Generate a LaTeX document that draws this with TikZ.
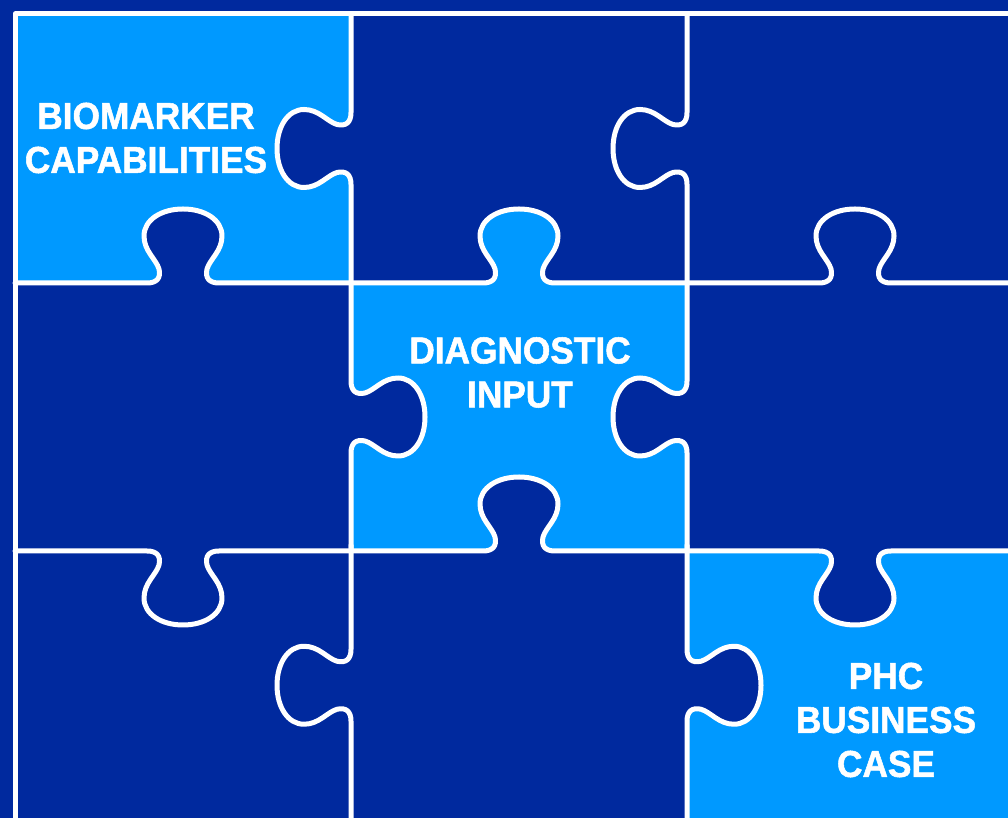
\documentclass[tikz,border=0pt]{standalone}
\usepackage{fontspec}
\newfontfamily\lblfont[FakeStretch=0.94,FakeBold=1.4]{Liberation Sans Bold}
\definecolor{dk}{RGB}{0,41,158}
\definecolor{lt}{RGB}{0,153,255}
\newcommand\tabcurve{.. controls (-26,0) and (-22,5) .. (-24,14)
 .. controls (-27,24) and (-39,32) .. (-39,47)
 .. controls (-39,63) and (-22,74) .. (0,74)
 .. controls (22,74) and (39,63) .. (39,47)
 .. controls (39,32) and (27,24) .. (24,14)
 .. controls (22,5) and (26,0) .. (36,0)}
\newcommand\pedge[4]{\draw[wline,shift={(#1,#2)},rotate=#3] (-#4,0) -- (-36,0) \tabcurve -- (#4,0);}
\newcommand\ptab[4]{\fill[#4,shift={(#1,#2)},rotate=#3] (-36,0) \tabcurve -- cycle;}
\tikzset{
  wline/.style={draw=white,line width=5pt,line join=round,line cap=round},
  lbl/.style={text=white,font=\lblfont\fontsize{37.5}{44}\selectfont,align=center,inner sep=0pt}
}
\begin{document}
\begin{tikzpicture}[x=1pt,y=1pt]
\useasboundingbox (0,0) rectangle (1008,818);
% background
\fill[dk] (0,0) rectangle (1008,818);
% light pieces
\fill[lt] (15,535) rectangle (351,804);
\fill[lt] (351,267) rectangle (687,535);
\fill[lt] (687,-5) rectangle (1012,267);
% tab fills across light/dark boundaries
\ptab{351}{669.5}{90}{dk}
\ptab{351}{401}{-90}{dk}
\ptab{687}{401}{90}{dk}
\ptab{687}{132.75}{-90}{dk}
\ptab{183}{535}{0}{dk}
\ptab{519}{535}{0}{lt}
\ptab{519}{267}{0}{dk}
\ptab{855}{267}{180}{dk}
% outer frame
\draw[wline] (1015,804) -- (15,804) -- (15,-10);
% vertical edges
\pedge{351}{669.5}{90}{134.5}
\pedge{687}{669.5}{90}{134.5}
\pedge{351}{401}{-90}{134.5}
\pedge{687}{401}{90}{134.5}
\pedge{351}{132.75}{90}{140}
\pedge{687}{132.75}{-90}{140}
% horizontal edges
\pedge{183}{535}{0}{168}
\pedge{519}{535}{0}{168}
\pedge{855}{535}{0}{168}
\pedge{183}{267}{180}{168}
\pedge{519}{267}{0}{168}
\pedge{855}{267}{180}{168}
% labels
\node[lbl] (bio) at (146,680) {BIOMARKER\\CAPABILITIES};
\node[lbl] (diag) at (520,445.5) {DIAGNOSTIC\\INPUT};
\node[lbl] (phc) at (886,98) {PHC\\BUSINESS\\CASE};
\end{tikzpicture}
\end{document}
